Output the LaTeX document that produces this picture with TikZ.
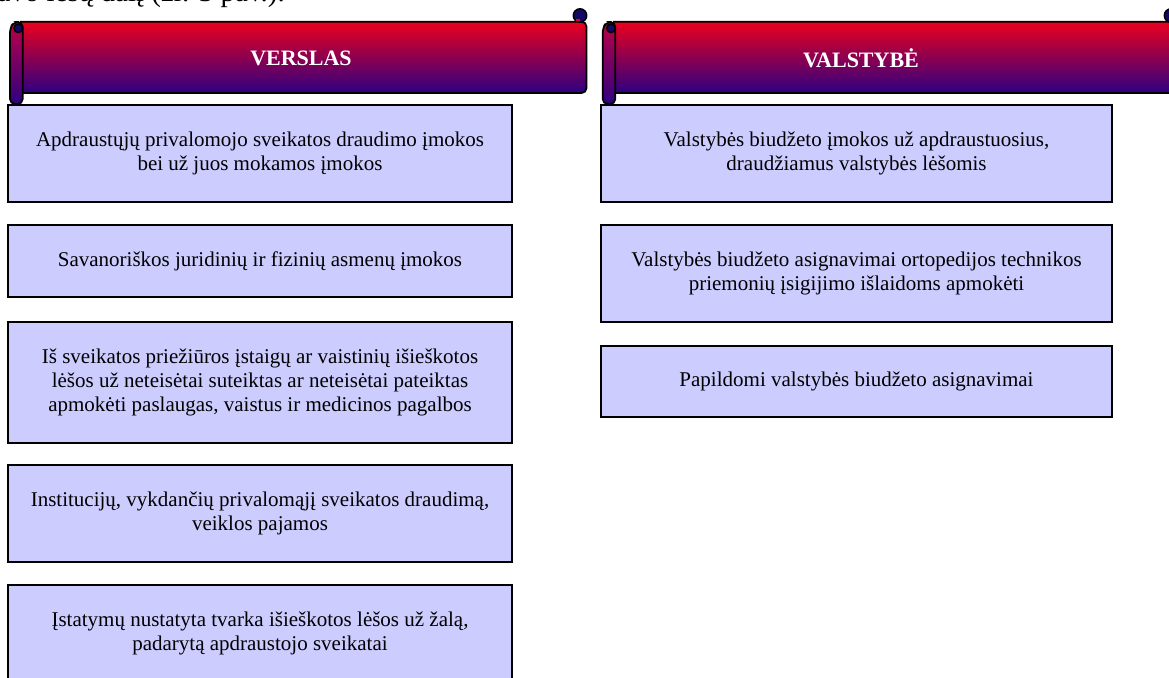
\documentclass[tikz,border=0pt]{standalone}
\usepackage{fontspec}
\setmainfont{Liberation Serif}
\definecolor{bred}{RGB}{235,0,30}
\definecolor{bblue}{RGB}{45,0,130}
\definecolor{rolltop}{RGB}{190,0,70}
\definecolor{boxfill}{RGB}{204,204,255}
\definecolor{curlc}{RGB}{20,10,100}
\begin{document}
\begin{tikzpicture}[x=1pt,y=-1pt,
  box/.style={draw=black,line width=2pt,fill=boxfill,inner sep=0pt,align=center,
    font=\fontsize{21}{24}\selectfont},
  bandtext/.style={font=\fontsize{22}{26}\selectfont\bfseries,text=white},
  band/.style={draw=black,line width=1.8pt,top color=bred,bottom color=bblue},
  roll/.style={draw=black,line width=1.8pt,top color=rolltop,bottom color=bblue,rounded corners=5pt},
  curl/.style={draw=black,line width=1.5pt,fill=curlc},
  frag/.style={font=\fontsize{29}{33}\selectfont}]
\useasboundingbox (0,0) rectangle (1169,677);
\clip (0,0) rectangle (1169,677);

% fragment of the preceding text line
\node[frag,anchor=base east,inner sep=0pt] (fragtext) at (285,2) {savo lėšų dalį (žr. 3 pav.).};

% ---- left banner VERSLAS
\draw[band,rounded corners=5pt] (20,21.7) -- (586.5,21.7) -- (586.5,93) -- (20,93);
\draw[curl] (580,15.5) circle (6.7);
\fill[bred] (575.5,19.5) rectangle (579.5,21);
\draw[roll] (10,28) -- (10,104) -- (22.7,104) -- (22.7,22) -- (14,22) -- cycle;
\draw[curl] (18.3,28.3) circle (4.3);
\node[bandtext] (verslas) at (301,58) {VERSLAS};

% ---- right banner VALSTYBĖ
\draw[band,rounded corners=5pt] (613,21.7) -- (1177,21.7) -- (1177,93) -- (613,93);
\draw[curl] (1171,15.5) circle (6.7);
\draw[roll] (602.7,28) -- (602.7,104) -- (615.3,104) -- (615.3,22) -- (606.7,22) -- cycle;
\draw[curl] (611,28.3) circle (4.3);
\node[bandtext] (valstybe) at (861,58) {VALSTYBĖ};

% ---- left boxes
\node[box,minimum width=503.4pt,minimum height=96.7pt] (l1) at (260,153.3)
  {Apdraustųjų privalomojo sveikatos draudimo įmokos\\bei už juos mokamos įmokos};
\node[box,minimum width=503.4pt,minimum height=72pt] (l2) at (260,261)
  {Savanoriškos juridinių ir fizinių asmenų įmokos};
\node[box,minimum width=503.4pt,minimum height=121.3pt] (l3) at (260,382.3)
  {Iš sveikatos priežiūros įstaigų ar vaistinių išieškotos\\lėšos už neteisėtai suteiktas ar neteisėtai pateiktas\\apmokėti paslaugas, vaistus ir medicinos pagalbos};
\node[box,minimum width=503.4pt,minimum height=96.7pt] (l4) at (260,513.3)
  {Institucijų, vykdančių privalomąjį sveikatos draudimą,\\veiklos pajamos};
\node[box,minimum width=503.4pt,minimum height=97pt] (l5) at (260,633.5)
  {Įstatymų nustatyta tvarka išieškotos lėšos už žalą,\\padarytą apdraustojo sveikatai};

% ---- right boxes
\node[box,minimum width=511pt,minimum height=96.7pt] (r1) at (856.5,153.3)
  {Valstybės biudžeto įmokos už apdraustuosius,\\draudžiamus valstybės lėšomis};
\node[box,minimum width=511pt,minimum height=96.5pt] (r2) at (856.5,273.3)
  {Valstybės biudžeto asignavimai ortopedijos technikos\\priemonių įsigijimo išlaidoms apmokėti};
\node[box,minimum width=511pt,minimum height=71pt] (r3) at (856.5,381.5)
  {Papildomi valstybės biudžeto asignavimai};
\end{tikzpicture}
\end{document}
